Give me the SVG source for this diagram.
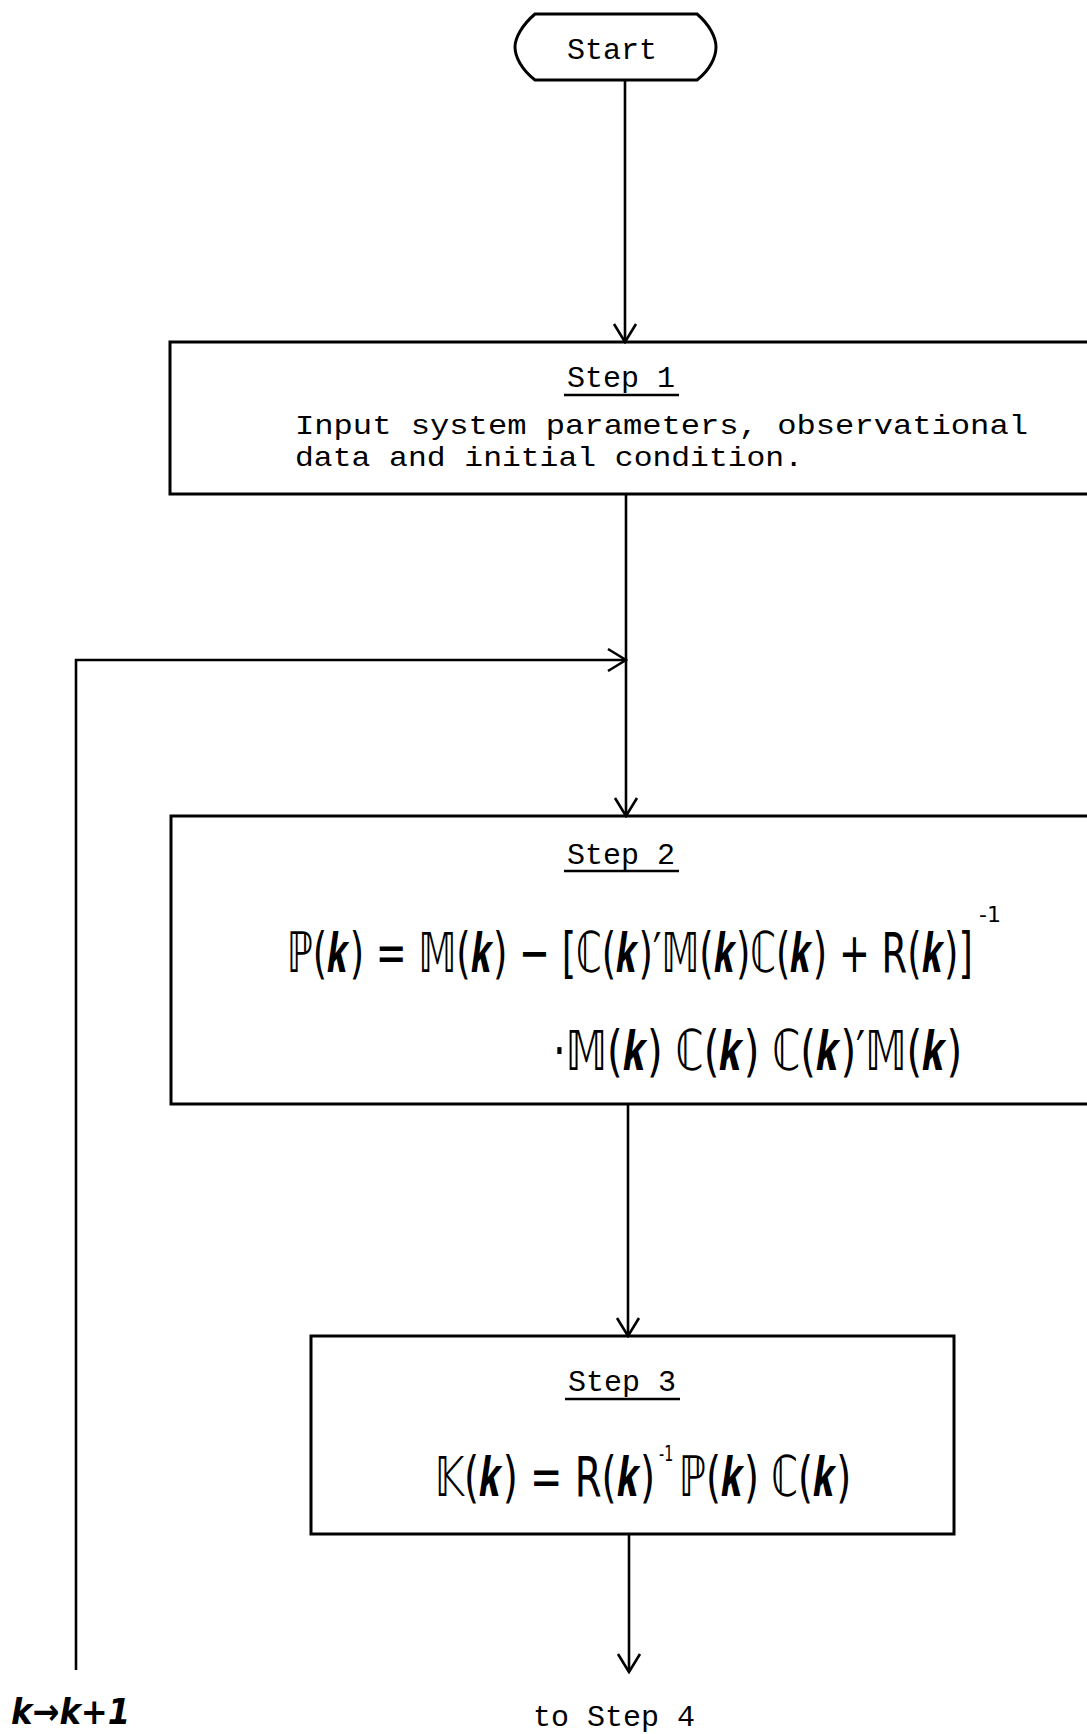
<svg xmlns="http://www.w3.org/2000/svg" width="1087" height="1734" viewBox="0 0 1087 1734">
<style>
.box{fill:none;stroke:#000;stroke-width:3}
.con{fill:none;stroke:#000;stroke-width:2.6}
.tw{font-family:"Liberation Mono","DejaVu Sans Mono",monospace;font-size:30px;fill:#000}
.tw2{font-family:"Liberation Mono","DejaVu Sans Mono",monospace;font-size:28px;fill:#000}
.ul{stroke:#000;stroke-width:2.4}
.fm{font-family:"DejaVu Sans","Noto Sans",sans-serif;font-size:56px;fill:#000}
.sup{font-family:"DejaVu Sans","Noto Sans",sans-serif;font-size:22px;fill:#000}
.kk{font-family:"DejaVu Sans","Noto Sans",sans-serif;font-size:36px;font-weight:bold;font-style:italic;fill:#000}
</style>
<defs>
<marker id="arr" viewBox="-22 -13 24 26" markerWidth="24" markerHeight="26" refX="0" refY="0" orient="auto" markerUnits="userSpaceOnUse">
<path d="M -18,-11 L 0,0 L -18,11" fill="none" stroke="#000" stroke-width="2.6"/>
</marker>
</defs>
<rect width="1087" height="1734" fill="#fff"/>
<g id="connectors">
<line class="con" x1="625" y1="81" x2="625" y2="342" marker-end="url(#arr)"/>
<line class="con" x1="626" y1="494" x2="626" y2="816" marker-end="url(#arr)"/>
<path class="con" d="M 76,1670 V 660 H 626" marker-end="url(#arr)"/>
<line class="con" x1="628" y1="1104" x2="628" y2="1336" marker-end="url(#arr)"/>
<line class="con" x1="629" y1="1534" x2="629" y2="1672" marker-end="url(#arr)"/>
</g>
<g id="start">
<path class="box" d="M 535,14 H 697 C 710,25 716,38 716,47 C 716,57 710,70 697,80 H 535 C 522,70 515,57 515,47 C 515,38 522,25 535,14 Z"/>
<text class="tw" x="612" y="59" text-anchor="middle">Start</text>
</g>
<g id="step1">
<rect class="box" x="170" y="342" width="940" height="152"/>
<text class="tw" x="621" y="387" text-anchor="middle">Step 1</text>
<line class="ul" x1="564" y1="395" x2="679" y2="395"/>
<text class="tw2" x="295" y="434" textLength="733" lengthAdjust="spacingAndGlyphs">Input system parameters, observational</text>
<text class="tw2" x="295" y="466" textLength="508" lengthAdjust="spacingAndGlyphs">data and initial condition.</text>
</g>
<g id="step2">
<rect class="box" x="171" y="816" width="940" height="288"/>
<text class="tw" x="621" y="864" text-anchor="middle">Step 2</text>
<line class="ul" x1="564" y1="871" x2="679" y2="871"/>
<text class="fm" transform="translate(287,972) scale(0.6,1)" x="0" y="0" textLength="1143" lengthAdjust="spacingAndGlyphs">ℙ(𝒌) = 𝕄(𝒌) − [ℂ(𝒌)′𝕄(𝒌)ℂ(𝒌) + R(𝒌)]</text>
<text class="sup" x="979" y="922">-1</text>
<text class="fm" transform="translate(553,1070) scale(0.6,1)" x="0" y="0" textLength="682" lengthAdjust="spacingAndGlyphs">·𝕄(𝒌) ℂ(𝒌) ℂ(𝒌)′𝕄(𝒌)</text>
</g>
<g id="step3">
<rect class="box" x="311" y="1336" width="643" height="198"/>
<text class="tw" x="622" y="1391" text-anchor="middle">Step 3</text>
<line class="ul" x1="565" y1="1399" x2="680" y2="1399"/>
<text class="fm" transform="translate(435,1496) scale(0.6,1)" x="0" y="0" textLength="367" lengthAdjust="spacingAndGlyphs">𝕂(𝒌) = R(𝒌)</text>
<text class="sup" transform="translate(659,1461) scale(0.65,1)" x="0" y="0">-1</text>
<text class="fm" transform="translate(679,1496) scale(0.6,1)" x="0" y="0" textLength="287" lengthAdjust="spacingAndGlyphs">ℙ(𝒌) ℂ(𝒌)</text>
</g>
<g id="labels">
<text class="kk" transform="translate(11,1724) scale(0.8,1)" x="0" y="0" textLength="149" lengthAdjust="spacingAndGlyphs">k→k+1</text>
<text class="tw" x="614" y="1726" text-anchor="middle">to Step 4</text>
</g>
</svg>
